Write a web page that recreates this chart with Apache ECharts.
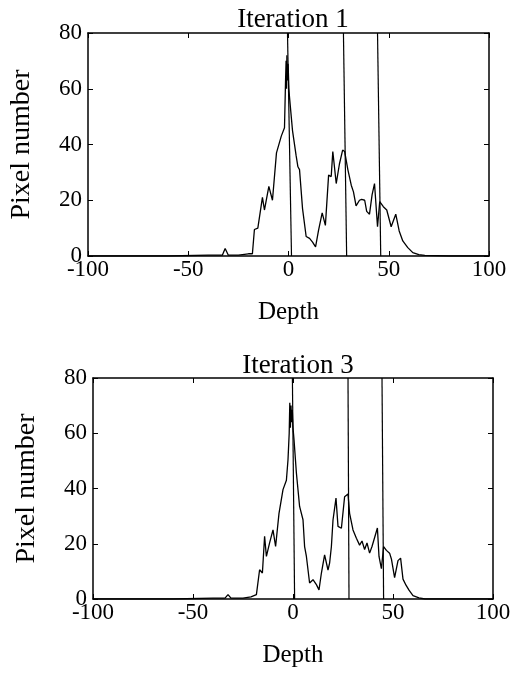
<!DOCTYPE html>
<html><head><meta charset="utf-8">
<script src="https://cdn.jsdelivr.net/npm/echarts@6/dist/echarts.min.js"></script>
<style>html,body{margin:0;padding:0;background:#fff}#c{width:516px;height:673px}</style>
</head><body><div id="c"></div>
<script>
// Iteration 1 profile: [depth, pixel number]
const iter1 = [[-100,0],[-60,0],[-40,0.3],[-33,0.3],[-31.6,2.7],[-30,0.3],[-25,0.3],[-20,0.8],[-18,0.8],[-17,9.5],[-15.3,10],[-13,21],[-12,16.5],[-9.8,25],[-8,20],[-6,37],[-3.6,43],[-2,46],[-1.5,62],[-1.2,70],[-1.0,60],[-0.8,72],[-0.5,63],[-0.2,69],[0.2,60],[0.5,57],[2,45],[3.8,36],[4.7,32],[5.5,31],[7,17],[8.8,7],[10.5,6.3],[12,5],[13.5,3.3],[15,9.3],[16.8,15.5],[18.4,11],[20,29],[21.3,28.5],[22.1,37.5],[23.8,26],[25.4,33],[27,38],[28,37.5],[29.6,31],[31.3,25.4],[32.4,23],[33.7,18],[35.4,20],[36.5,20.3],[38,20],[39,16],[40.4,15],[41.7,22],[42.9,26],[44.4,10.5],[45.5,19.5],[47.3,17.7],[49,16.5],[51.2,10.5],[53.5,15],[55.2,9],[57,5.4],[59.5,3],[62,1.2],[65,0.5],[68,0.2],[80,0],[100,0]];
// Iteration 3 profile
const iter3 = [[-100,0],[-60,0],[-40,0.3],[-34,0.3],[-32.5,1.6],[-31,0.3],[-25,0.3],[-21,0.8],[-18.3,1.6],[-16.7,10.6],[-15.3,9.4],[-14.2,22.7],[-13.3,15.4],[-11.7,20.3],[-10,25],[-8.7,19],[-7,31],[-5,39.6],[-3.3,43],[-2.5,50.4],[-1.9,60],[-1.6,71],[-1.3,62],[-1.0,70],[-0.7,64],[-0.4,68.5],[0,62],[0.5,57.7],[1.7,45.6],[3.3,33.5],[5,28.7],[5.8,19],[6.7,15.4],[8.3,5.8],[9.2,5.6],[10,7],[11.7,5.2],[13,3.3],[14.2,9.4],[15.8,16],[17.5,10.5],[18.3,13],[19.2,19],[20,28.6],[21.5,36.5],[22.5,26.3],[24.2,25.6],[25.8,37],[27.5,38],[28.3,31],[30,25],[31.7,22],[33.3,19.5],[34.5,21],[35.8,17.9],[37,20.3],[38.3,16.6],[39.5,19],[41,22.7],[42.2,25.7],[43,15.4],[44.2,11],[45.3,19],[46.7,17.6],[48.3,16.6],[49.2,14.5],[50.8,7.7],[52.5,13.9],[53.8,14.8],[55,7.2],[56.5,5],[58,3.2],[60,1.2],[63,0.4],[66,0],[80,0],[100,0]];
// Boundary lines: [depth at top, depth at bottom]
const bounds1 = [[-0.5,1.5],[27.4,29],[44.4,46]];
const bounds3 = [[-0.3,0.8],[27.5,28],[44.5,45.3]];
const xTicks = {min:-100,max:100,interval:50};
const yTicks = {min:0,max:80,interval:20};
const titles = ['Iteration 1','Iteration 3'];
const xName = 'Depth', yName = 'Pixel number';

const serif = 'Liberation Serif';
const grids = [
  {left:88, right:27, top:33, height:223},
  {left:93, right:23, top:378, height:221}
];
const axLine = {show:true, onZero:false, lineStyle:{color:'#000', width:1.5}};
function xAx(g, main){
  return {type:'value', gridIndex:g, position: main?'bottom':'top', min:xTicks.min, max:xTicks.max, interval:xTicks.interval,
    axisLine:axLine, axisTick:{show:true, inside:true, length:5, lineStyle:{color:'#000'}},
    axisLabel:{show:main, color:'#000', fontFamily:serif, fontSize:23, margin:2},
    splitLine:{show:false},
    name: main?xName:'', nameLocation:'middle', nameGap:44, nameTextStyle:{color:'#000', fontFamily:serif, fontSize:25}};
}
function yAx(g, main){
  return {type:'value', gridIndex:g, position: main?'left':'right', min:yTicks.min, max:yTicks.max, interval:yTicks.interval,
    axisLine:axLine, axisTick:{show:true, inside:true, length:5, lineStyle:{color:'#000'}},
    axisLabel:{show:main, color:'#000', fontFamily:serif, fontSize:23, margin:6},
    splitLine:{show:false},
    name: main?yName:'', nameLocation:'middle', nameGap:52, nameTextStyle:{color:'#000', fontFamily:serif, fontSize:28}};
}
const series = [];
[[iter1,bounds1],[iter3,bounds3]].forEach(([prof,bnds],g)=>{
  series.push({type:'line', xAxisIndex:g*2, yAxisIndex:g*2, data:prof, showSymbol:false, symbol:'none',
    lineStyle:{color:'#000', width:1.3}, animation:false});
  bnds.forEach(b=>{
    series.push({type:'line', xAxisIndex:g*2, yAxisIndex:g*2, data:[[b[0],yTicks.max],[b[1],yTicks.min]], symbol:'none',
      lineStyle:{color:'#000', width:1.2}, animation:false});
  });
});
const chart = echarts.init(document.getElementById('c'));
chart.setOption({
  backgroundColor:'#fff',
  animation:false,
  title:[
    {text:titles[0], left:288, top:1, textAlign:'center', textStyle:{color:'#000', fontFamily:serif, fontSize:27, fontWeight:'normal'}},
    {text:titles[1], left:293, top:347, textAlign:'center', textStyle:{color:'#000', fontFamily:serif, fontSize:27, fontWeight:'normal'}}
  ],
  grid:grids,
  xAxis:[xAx(0,true), xAx(0,false), xAx(1,true), xAx(1,false)],
  yAxis:[yAx(0,true), yAx(0,false), yAx(1,true), yAx(1,false)],
  series:series
});
</script></body></html>
